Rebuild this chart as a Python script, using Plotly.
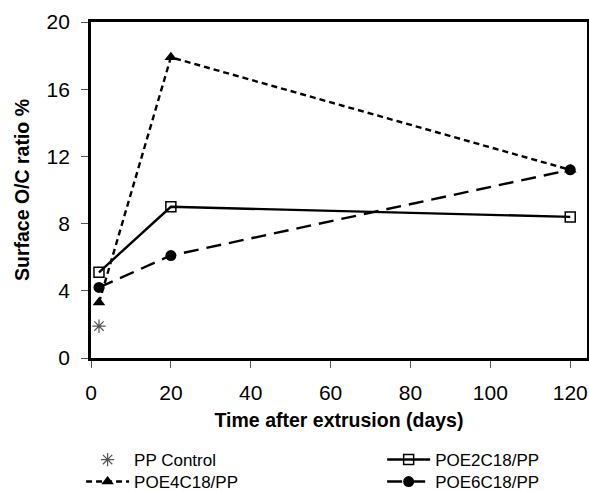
import plotly.graph_objects as go

days_ctrl = [2]
pp_control = [1.9]
days = [2, 20, 120]
poe2 = [5.1, 9.0, 8.4]
poe4 = [3.3, 17.9, 11.2]
poe6 = [4.2, 6.1, 11.2]

fig = go.Figure()
fig.add_trace(go.Scatter(x=days_ctrl, y=pp_control, mode="markers", name="PP Control",
                         legend="legend",
                         marker=dict(symbol="asterisk-open", size=11, color="#555555",
                                     line=dict(width=1.2, color="#555555"))))
fig.add_trace(go.Scatter(x=days, y=poe2, mode="lines+markers", name="POE2C18/PP",
                         legend="legend2",
                         line=dict(color="black", width=2.4),
                         marker=dict(symbol="square-open", size=10, color="black",
                                     line=dict(width=1.5, color="black"))))
fig.add_trace(go.Scatter(x=days, y=poe4, mode="lines+markers", name="POE4C18/PP",
                         legend="legend3",
                         line=dict(color="black", width=2.4, dash="6px,4px"),
                         marker=dict(symbol="triangle-up", size=11, color="black")))
fig.add_trace(go.Scatter(x=days, y=poe6, mode="lines+markers", name="POE6C18/PP",
                         legend="legend4",
                         line=dict(color="black", width=2.4, dash="15px,8px"),
                         marker=dict(symbol="circle", size=11, color="black")))

font = "Liberation Sans, Arial, sans-serif"
leg_common = dict(orientation="v", yanchor="top", xanchor="left",
                  font=dict(size=17, color="black"), tracegroupgap=0,
                  itemwidth=43, bgcolor="rgba(0,0,0,0)")
col1_x, col2_x = -0.020, 0.587
row1_y, row2_y = -0.25, -0.3155
fig.update_layout(
    width=589, height=491,
    margin=dict(l=91, r=2, t=22, b=133, autoexpand=False),
    paper_bgcolor="white", plot_bgcolor="white",
    font=dict(family=font, size=21, color="black"),
    showlegend=True,
    legend=dict(x=col1_x, y=row1_y, **leg_common),
    legend2=dict(x=col2_x, y=row1_y, **leg_common),
    legend3=dict(x=col1_x, y=row2_y, **leg_common),
    legend4=dict(x=col2_x, y=row2_y, **leg_common),
    xaxis=dict(range=[0, 124.2], tickvals=[0, 20, 40, 60, 80, 100, 120],
               showgrid=False, zeroline=False, showline=True, linecolor="black",
               linewidth=2.8, mirror=True, ticks="outside", ticklen=7,
               tickcolor="#555555", tickwidth=1, ticklabelstandoff=7,
               title=dict(text="<b>Time after extrusion (days)</b>", font=dict(size=19.5), standoff=11)),
    yaxis=dict(range=[0, 20], tickvals=[0, 4, 8, 12, 16, 20],
               showgrid=False, zeroline=False, showline=True, linecolor="black",
               linewidth=2.8, mirror=True, ticks="outside", ticklen=7,
               tickcolor="#555555", tickwidth=1, ticklabelstandoff=7,
               title=dict(text="<b>Surface O/C ratio %</b>", font=dict(size=19.5), standoff=12)),
)

fig.write_html("out.html", config={"displayModeBar": False},
               post_script="document.body.style.margin='0px';document.body.style.overflow='hidden';")
